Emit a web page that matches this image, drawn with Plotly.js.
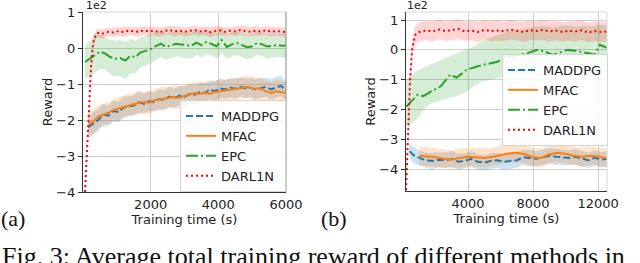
<!DOCTYPE html>
<html>
<head>
<meta charset="utf-8">
<script src="https://cdn.plot.ly/plotly-3.0.1.min.js"></script>
<style>html,body{margin:0;padding:0;background:#fff;}#chart{width:640px;height:263px;}</style>
</head>
<body>
<div id="chart"></div>
<script>
// ---------- Data (reward in units of 1e2) ----------
const seriesNames = ["MADDPG", "MFAC", "EPC", "DARL1N"];

// Panel (a)
const tA_mf = [150,300,450,600,750,900,1050,1200,1350,1500,1650,1800,1950,2100,2250,2400,2550,2700,2850,3000,3150,3300,3450,3600,3750,3900,4050,4200,4350,4500,4650,4800,4950,5100,5250,5400,5550,5700,5850,6000];
const MADDPG_a = [-2.2,-2.1,-2.0,-1.85,-1.88,-1.75,-1.78,-1.65,-1.62,-1.6,-1.5,-1.55,-1.48,-1.5,-1.42,-1.45,-1.35,-1.4,-1.32,-1.35,-1.28,-1.3,-1.22,-1.25,-1.15,-1.2,-1.12,-1.15,-1.1,-1.13,-1.08,-1.12,-1.1,-1.15,-1.12,-1.08,-1.15,-1.1,-1.05,-1.18];
const MADDPG_a_sd = [0.3,0.32,0.3,0.3,0.28,0.3,0.28,0.3,0.27,0.28,0.3,0.27,0.28,0.26,0.28,0.27,0.28,0.26,0.27,0.28,0.27,0.26,0.28,0.27,0.26,0.28,0.27,0.26,0.27,0.28,0.26,0.27,0.26,0.28,0.27,0.26,0.28,0.27,0.28,0.27];
const MFAC_a = [-2.1,-2.05,-1.9,-1.85,-1.8,-1.72,-1.68,-1.62,-1.58,-1.55,-1.52,-1.5,-1.52,-1.45,-1.42,-1.4,-1.38,-1.36,-1.38,-1.33,-1.3,-1.25,-1.28,-1.25,-1.27,-1.22,-1.2,-1.18,-1.17,-1.15,-1.12,-1.08,-1.1,-1.13,-1.12,-1.2,-1.25,-1.2,-1.22,-1.25];
const MFAC_a_sd = [0.32,0.33,0.32,0.3,0.31,0.3,0.32,0.3,0.31,0.3,0.32,0.3,0.31,0.3,0.32,0.31,0.3,0.32,0.31,0.3,0.31,0.32,0.3,0.31,0.3,0.32,0.31,0.3,0.31,0.32,0.3,0.31,0.3,0.32,0.31,0.3,0.31,0.32,0.3,0.31];
const tA_epc = [60,200,350,500,650,800,950,1100,1250,1400,1550,1700,1850,2000,2150,2300,2450,2600,2750,2900,3050,3200,3350,3500,3650,3800,3950,4100,4250,4400,4550,4700,4850,5000,5150,5300,5450,5600,5750,5900,6000];
const EPC_a = [-0.39,-0.3,-0.18,-0.1,-0.15,-0.25,-0.3,-0.28,-0.35,-0.22,-0.25,-0.12,-0.08,-0.03,0.05,0.12,0.03,0.08,0.12,0.1,0.08,0.06,0.15,0.08,0.17,0.12,0.05,0.22,0.03,0.1,0.14,0.08,0.02,0.05,0.14,0.1,0.04,0.06,0.08,0.06,0.07];
const EPC_a_sd = [0.45,0.5,0.5,0.48,0.45,0.47,0.5,0.5,0.52,0.48,0.45,0.42,0.42,0.4,0.38,0.37,0.36,0.36,0.35,0.35,0.35,0.36,0.34,0.35,0.34,0.33,0.34,0.35,0.33,0.34,0.33,0.34,0.33,0.34,0.33,0.33,0.34,0.33,0.33,0.34,0.33];
const tA_dar = [60,120,180,240,300,380,450,600,750,900,1050,1200,1350,1500,1650,1800,1950,2100,2250,2400,2550,2700,2850,3000,3150,3300,3450,3600,3750,3900,4050,4200,4350,4500,4650,4800,4950,5100,5250,5400,5550,5700,5850,6000];
const DARL1N_a = [-4.0,-2.9,-1.6,-0.5,0.15,0.38,0.42,0.4,0.45,0.43,0.47,0.44,0.48,0.46,0.45,0.49,0.46,0.48,0.44,0.47,0.5,0.46,0.48,0.45,0.47,0.5,0.46,0.48,0.44,0.47,0.49,0.45,0.48,0.46,0.5,0.47,0.45,0.48,0.46,0.49,0.45,0.47,0.46,0.44];
const DARL1N_a_sd = [0.05,0.15,0.2,0.18,0.14,0.12,0.12,0.13,0.11,0.13,0.12,0.14,0.12,0.11,0.13,0.12,0.14,0.12,0.13,0.11,0.12,0.14,0.12,0.13,0.12,0.11,0.13,0.12,0.14,0.12,0.13,0.12,0.11,0.13,0.12,0.14,0.12,0.13,0.11,0.12,0.13,0.12,0.12,0.13];

// Panel (b)
const tB_mad = [400,700,1000,1400,1800,2200,2600,3000,3400,3800,4200,4600,5000,5400,5800,6200,6600,7000,7400,7800,8200,8600,9000,9400,9800,10200,10600,11000,11400,11800,12200,12550];
const MADDPG_b = [-3.4,-3.55,-3.62,-3.7,-3.72,-3.68,-3.7,-3.65,-3.75,-3.72,-3.65,-3.75,-3.78,-3.72,-3.7,-3.75,-3.72,-3.7,-3.6,-3.62,-3.65,-3.6,-3.55,-3.58,-3.6,-3.62,-3.58,-3.65,-3.7,-3.62,-3.68,-3.65];
const MADDPG_b_sd = [0.25,0.27,0.26,0.25,0.27,0.26,0.25,0.26,0.27,0.25,0.26,0.27,0.25,0.26,0.25,0.27,0.26,0.25,0.26,0.27,0.25,0.26,0.25,0.27,0.26,0.25,0.26,0.27,0.25,0.26,0.25,0.26];
const tB_mf = [1000,1500,2000,2500,3000,3500,4000,4500,5000,5500,6000,6500,7000,7500,8000,8500,9000,9500,10000,10500,11000,11500,12000,12550];
const MFAC_b = [-3.55,-3.57,-3.6,-3.65,-3.67,-3.62,-3.58,-3.6,-3.62,-3.58,-3.52,-3.47,-3.45,-3.5,-3.6,-3.62,-3.5,-3.45,-3.48,-3.55,-3.58,-3.55,-3.57,-3.63];
const MFAC_b_sd = [0.3,0.32,0.3,0.31,0.3,0.32,0.3,0.31,0.32,0.3,0.31,0.3,0.32,0.31,0.3,0.31,0.32,0.3,0.31,0.3,0.32,0.31,0.3,0.31];
const tB_epc = [200,900,1250,1700,2300,2900,3300,3900,4400,4900,5400,5800,6400,7200,7700,8250,8700,9200,9700,10100,10600,11300,11800,12100,12550];
const EPC_b = [-1.9,-1.5,-1.55,-1.4,-1.23,-0.83,-0.93,-0.67,-0.58,-0.5,-0.45,-0.4,-0.22,-0.17,-0.1,0,-0.05,-0.17,-0.08,0,-0.03,-0.1,-0.15,0.17,0.07];
const EPC_b_hi = [-1.0,-0.7,-0.6,-0.5,-0.35,-0.2,-0.12,0.0,0.12,0.3,0.42,0.5,0.6,0.68,0.72,0.78,0.8,0.75,0.8,0.82,0.78,0.8,0.78,0.85,0.82];
const EPC_b_lo = [-2.6,-2.3,-2.0,-1.8,-1.7,-1.6,-1.55,-1.4,-1.2,-1.05,-1.0,-0.95,-0.85,-0.8,-0.7,-0.6,-0.6,-0.6,-0.62,-0.6,-0.65,-0.68,-0.72,-0.6,-0.7];
const tB_dar = [185,300,430,550,740,1000,1400,1800,2200,2600,3000,3400,3800,4200,4600,5000,5400,5800,6200,6600,7000,7400,7800,8200,8600,9000,9400,9800,10200,10600,11000,11400,11800,12200,12550];
const DARL1N_b = [-4.7,-3.0,-1.0,0.0,0.5,0.6,0.65,0.62,0.68,0.63,0.66,0.7,0.62,0.65,0.6,0.67,0.63,0.65,0.62,0.68,0.64,0.6,0.66,0.63,0.67,0.62,0.65,0.6,0.64,0.62,0.66,0.58,0.63,0.6,0.62];
const DARL1N_b_sd = [0.1,0.3,0.3,0.3,0.3,0.33,0.32,0.34,0.33,0.32,0.34,0.33,0.32,0.33,0.34,0.32,0.33,0.34,0.32,0.33,0.32,0.34,0.33,0.32,0.33,0.34,0.32,0.33,0.32,0.34,0.33,0.32,0.33,0.34,0.33];

const xTicksA = [2000, 4000, 6000];
const xTicksB = [4000, 8000, 12000];
const yTicks = [-4, -3, -2, -1, 0, 1];

// ---------- Styles ----------
const colors = {MADDPG: "#1f77b4", MFAC: "#ff7f0e", EPC: "#2ca02c", DARL1N: "#ff0000"};
const fills = {MADDPG: "rgba(31,119,180,0.22)", MFAC: "rgba(255,127,14,0.22)", EPC: "rgba(44,160,44,0.2)", DARL1N: "rgba(255,0,0,0.17)"};
const dashes = {MADDPG: "7px,3px", MFAC: "solid", EPC: "12px,3px,2px,3px", DARL1N: "2px,3px"};

function band(t, hi, lo, name, xa, ya) {
  return {x: t.concat(t.slice().reverse()), y: hi.concat(lo.slice().reverse()),
    fill: "toself", fillcolor: fills[name], line: {width: 0, color: "rgba(0,0,0,0)"},
    mode: "lines", showlegend: false, hoverinfo: "skip", xaxis: xa, yaxis: ya, type: "scatter"};
}
function withSd(t, m, sd, name, xa, ya) {
  return band(t, m.map((v, i) => v + sd[i]), m.map((v, i) => v - sd[i]), name, xa, ya);
}
function line(t, m, name, xa, ya, leg) {
  return {x: t, y: m, name: name, mode: "lines", type: "scatter",
    line: {color: colors[name], width: 2, dash: dashes[name]},
    xaxis: xa, yaxis: ya, legend: leg};
}

const traces = [
  withSd(tA_mf, MADDPG_a, MADDPG_a_sd, "MADDPG", "x", "y"),
  withSd(tA_mf, MFAC_a, MFAC_a_sd, "MFAC", "x", "y"),
  withSd(tA_epc, EPC_a, EPC_a_sd, "EPC", "x", "y"),
  withSd(tA_dar, DARL1N_a, DARL1N_a_sd, "DARL1N", "x", "y"),
  line(tA_mf, MADDPG_a, "MADDPG", "x", "y", "legend"),
  line(tA_mf, MFAC_a, "MFAC", "x", "y", "legend"),
  line(tA_epc, EPC_a, "EPC", "x", "y", "legend"),
  line(tA_dar, DARL1N_a, "DARL1N", "x", "y", "legend"),
  withSd(tB_mad, MADDPG_b, MADDPG_b_sd, "MADDPG", "x2", "y2"),
  withSd(tB_mf, MFAC_b, MFAC_b_sd, "MFAC", "x2", "y2"),
  band(tB_epc, EPC_b_hi, EPC_b_lo, "EPC", "x2", "y2"),
  withSd(tB_dar, DARL1N_b, DARL1N_b_sd, "DARL1N", "x2", "y2"),
  line(tB_mad, MADDPG_b, "MADDPG", "x2", "y2", "legend2"),
  line(tB_mf, MFAC_b, "MFAC", "x2", "y2", "legend2"),
  line(tB_epc, EPC_b, "EPC", "x2", "y2", "legend2"),
  line(tB_dar, DARL1N_b, "DARL1N", "x2", "y2", "legend2")
];

const W = 640, H = 263;
const px = v => v / W, py = v => (H - v) / H;
const font = {family: "DejaVu Sans", size: 13, color: "#222"};
const serif = "Liberation Serif, Times New Roman, serif";

function xAxis(dom, range, ticks, anchor) {
  return {domain: dom, range: range, tickvals: ticks, ticktext: ticks.map(String),
    showgrid: true, gridcolor: "#cfcfcf", gridwidth: 1, zeroline: false,
    showline: true, linecolor: "#333", linewidth: 1.2, ticks: "", 
    tickfont: font, anchor: anchor, automargin: false,
    title: {text: "Training time (s)", font: font, standoff: 1}};
}
function yAxis(dom, range, anchor) {
  return {domain: dom, range: range, tickvals: yTicks, ticktext: yTicks.map(v => v < 0 ? "\u2212" + (-v) : String(v)),
    showgrid: true, gridcolor: "#cfcfcf", gridwidth: 1, zeroline: false,
    showline: true, linecolor: "#333", linewidth: 1.2, ticks: "outside", ticklen: 4, tickcolor: "#333",
    tickfont: font, anchor: anchor, automargin: false,
    title: {text: "Reward", font: font, standoff: 0}};
}

const dxA = [px(83), px(286)], dyA = [py(192), py(12)];
const dxB = [px(406), px(607)], dyB = [py(191), py(12)];

const legendBase = {font: font, bgcolor: "rgba(255,255,255,0.85)", bordercolor: "#d4d4d4", borderwidth: 1,
  xanchor: "left", yanchor: "top", tracegroupgap: 0};

const layout = {
  width: W, height: H, autosize: false,
  margin: {l: 0, r: 0, t: 0, b: 0},
  paper_bgcolor: "#fff", plot_bgcolor: "#fff",
  font: font,
  xaxis: xAxis(dxA, [0, 6000], xTicksA, "y"),
  yaxis: yAxis(dyA, [-4, 1], "x"),
  xaxis2: xAxis(dxB, [180, 12550], xTicksB, "y2"),
  yaxis2: yAxis(dyB, [-4.73, 1.27], "x2"),
  legend: Object.assign({}, legendBase, {x: px(180), y: py(100)}),
  legend2: Object.assign({}, legendBase, {x: px(502), y: py(54)}),
  shapes: [
    {type: "line", xref: "paper", yref: "paper", x0: dxA[0], x1: dxA[1], y0: dyA[1], y1: dyA[1], line: {color: "#d8d8d8", width: 1}},
    {type: "line", xref: "paper", yref: "paper", x0: dxA[1], x1: dxA[1], y0: dyA[0], y1: dyA[1], line: {color: "#999", width: 1.2}},
    {type: "line", xref: "paper", yref: "paper", x0: dxB[0], x1: dxB[1], y0: dyB[1], y1: dyB[1], line: {color: "#d8d8d8", width: 1}},
    {type: "line", xref: "paper", yref: "paper", x0: dxB[1], x1: dxB[1], y0: dyB[0], y1: dyB[1], line: {color: "#d8d8d8", width: 1}}
  ],
  annotations: [
    {text: "1e2", xref: "paper", yref: "paper", x: px(84), y: py(6), xanchor: "left", yanchor: "middle", showarrow: false, font: {family: "DejaVu Sans", size: 11, color: "#222"}},
    {text: "1e2", xref: "paper", yref: "paper", x: px(405), y: py(6), xanchor: "left", yanchor: "middle", showarrow: false, font: {family: "DejaVu Sans", size: 11, color: "#222"}},
    {text: "(a)", xref: "paper", yref: "paper", x: px(-1), y: py(218), xanchor: "left", yanchor: "middle", showarrow: false, font: {family: serif, size: 22, color: "#111"}},
    {text: "(b)", xref: "paper", yref: "paper", x: px(319), y: py(218), xanchor: "left", yanchor: "middle", showarrow: false, font: {family: serif, size: 22, color: "#111"}},
    {text: "Fig. 3: Average total training reward of different methods in", xref: "paper", yref: "paper", x: px(0), y: py(256), xanchor: "left", yanchor: "middle", showarrow: false, font: {family: serif, size: 26, color: "#111"}}
  ]
};

Plotly.newPlot("chart", traces, layout, {displayModeBar: false, staticPlot: true});
</script>
</body>
</html>
